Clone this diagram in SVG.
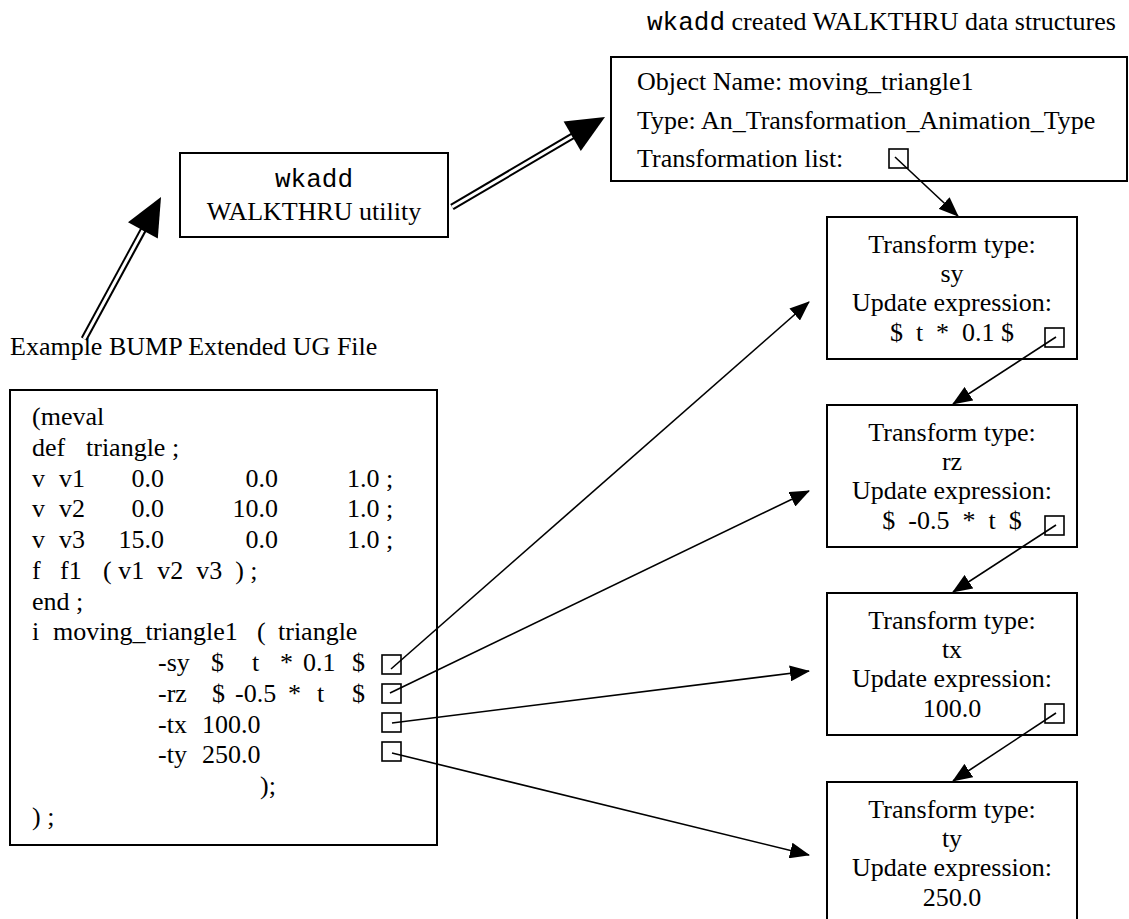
<svg xmlns="http://www.w3.org/2000/svg" width="1129" height="919" viewBox="0 0 1129 919">
  <style>
    .t { font-family: "Liberation Serif", "Times New Roman", serif; font-size: 26px; fill: #000; }
    .m { font-family: "Liberation Mono", "Courier New", monospace; }
    .c { text-anchor: middle; }
    .e { text-anchor: end; }
    .pre { white-space: pre; }
    .box { fill: none; stroke: #000; stroke-width: 2; }
    .sq { fill: none; stroke: #000; stroke-width: 1.6; }
    .conn { fill: none; stroke: #000; stroke-width: 1.6; marker-end: url(#ah); }
    .dbl-out { fill: none; stroke: #000; stroke-width: 7; }
    .dbl-in { fill: none; stroke: #fff; stroke-width: 3; }
  </style>
  <defs>
    <marker id="ah" viewBox="0 0 20 16" refX="19" refY="8" markerWidth="20" markerHeight="16" markerUnits="userSpaceOnUse" orient="auto">
      <path d="M0,0 L20,8 L0,16 z" fill="#000"/>
    </marker>
  </defs>
  <rect width="1129" height="919" fill="#fff"/>

  <!-- utility box -->
  <g id="wkadd-utility">
    <rect class="box" x="180" y="153" width="268" height="84"/>
    <text class="t m c" x="314" y="187">wkadd</text>
    <text class="t c" x="314" y="220">WALKTHRU utility</text>
  </g>

  <!-- source file listing -->
  <g id="ug-file">
    <text class="t" x="10" y="355">Example BUMP Extended UG File</text>
    <rect class="box" x="10" y="390" width="427" height="455"/>
    <text class="t" x="32" y="425">(meval</text>
    <text class="t" x="32" y="456">def</text>
    <text class="t" x="86" y="456">triangle ;</text>
    <text class="t" x="32" y="487">v</text><text class="t" x="59" y="487">v1</text>
    <text class="t e" x="164" y="487">0.0</text><text class="t e" x="278" y="487">0.0</text><text class="t" x="347" y="487">1.0 ;</text>
    <text class="t" x="32" y="517">v</text><text class="t" x="59" y="517">v2</text>
    <text class="t e" x="164" y="517">0.0</text><text class="t e" x="278" y="517">10.0</text><text class="t" x="347" y="517">1.0 ;</text>
    <text class="t" x="32" y="548">v</text><text class="t" x="59" y="548">v3</text>
    <text class="t e" x="164" y="548">15.0</text><text class="t e" x="278" y="548">0.0</text><text class="t" x="347" y="548">1.0 ;</text>
    <text class="t" x="32" y="579">f</text><text class="t" x="60" y="579">f1</text>
    <text class="t pre" x="103" y="579">( v1  v2  v3  ) ;</text>
    <text class="t" x="32" y="610">end ;</text>
    <text class="t" x="32" y="640">i</text><text class="t" x="53" y="640">moving_triangle1</text>
    <text class="t" x="257" y="640">(</text><text class="t" x="278" y="640">triangle</text>
    <text class="t" x="158" y="671">-sy</text><text class="t" x="211" y="671">$</text><text class="t" x="252" y="671">t</text>
    <text class="t" x="280" y="671">*</text><text class="t" x="303" y="671">0.1</text><text class="t" x="352" y="671">$</text>
    <text class="t" x="158" y="702">-rz</text><text class="t" x="212" y="702">$</text><text class="t" x="235" y="702">-0.5</text>
    <text class="t" x="288" y="702">*</text><text class="t" x="317" y="702">t</text><text class="t" x="352" y="702">$</text>
    <text class="t" x="158" y="733">-tx</text><text class="t" x="202" y="733">100.0</text>
    <text class="t" x="158" y="763">-ty</text><text class="t" x="202" y="763">250.0</text>
    <text class="t" x="260" y="794">);</text>
    <text class="t" x="32" y="825">) ;</text>
    <rect class="sq" x="382" y="655" width="19" height="19"/>
    <rect class="sq" x="382" y="684" width="19" height="19"/>
    <rect class="sq" x="382" y="713" width="19" height="19"/>
    <rect class="sq" x="382" y="742" width="19" height="19"/>
  </g>

  <!-- object record -->
  <g id="object-record">
    <text class="t" x="647" y="30"><tspan class="m">wkadd</tspan> created WALKTHRU data structures</text>
    <rect class="box" x="611" y="57" width="516" height="124"/>
    <text class="t" x="637" y="90">Object Name: moving_triangle1</text>
    <text class="t" x="637" y="129">Type: An_Transformation_Animation_Type</text>
    <text class="t" x="637" y="167">Transformation list:</text>
    <rect class="sq" x="889" y="149" width="19" height="19"/>
  </g>

  <!-- transform list entries -->
  <g id="transform-sy">
    <rect class="box" x="827" y="217" width="250" height="142"/>
    <text class="t c" x="952" y="253">Transform type:</text>
    <text class="t c" x="952" y="282">sy</text>
    <text class="t c" x="952" y="311">Update expression:</text>
    <text class="t c pre" x="952" y="341">$  t  *  0.1 $</text>
    <rect class="sq" x="1045" y="328" width="19" height="19"/>
  </g>
  <g id="transform-rz">
    <rect class="box" x="827" y="405" width="250" height="142"/>
    <text class="t c" x="952" y="441">Transform type:</text>
    <text class="t c" x="952" y="470">rz</text>
    <text class="t c" x="952" y="499">Update expression:</text>
    <text class="t c pre" x="952" y="529">$  -0.5  *  t  $</text>
    <rect class="sq" x="1045" y="516" width="19" height="19"/>
  </g>
  <g id="transform-tx">
    <rect class="box" x="827" y="593" width="250" height="142"/>
    <text class="t c" x="952" y="629">Transform type:</text>
    <text class="t c" x="952" y="658">tx</text>
    <text class="t c" x="952" y="687">Update expression:</text>
    <text class="t c" x="952" y="717">100.0</text>
    <rect class="sq" x="1045" y="704" width="19" height="19"/>
  </g>
  <g id="transform-ty">
    <rect class="box" x="827" y="782" width="250" height="142"/>
    <text class="t c" x="952" y="818">Transform type:</text>
    <text class="t c" x="952" y="847">ty</text>
    <text class="t c" x="952" y="876">Update expression:</text>
    <text class="t c" x="952" y="906">250.0</text>
  </g>

  <!-- connectors -->
  <g id="connectors">
    <!-- file to utility (double line) -->
    <path class="dbl-out" d="M84,339 L143.5,229.5"/>
    <path class="dbl-in" d="M84,339 L142.9,230.4"/>
    <polygon points="161,197 157.8,238.5 128,222.3" fill="#000"/>
    <!-- utility to records (double line) -->
    <path class="dbl-out" d="M452,207 L573,135.8"/>
    <path class="dbl-in" d="M452,207 L572.2,136.3"/>
    <polygon points="605,117 580.8,151 563.6,121.6" fill="#000"/>
    <!-- list chain -->
    <path class="conn" d="M895,157 L958,216"/>
    <path class="conn" d="M1056,337 L953,404"/>
    <path class="conn" d="M1056,525 L953,592"/>
    <path class="conn" d="M1056,713 L953,781"/>
    <!-- option slots to list entries -->
    <path class="conn" d="M391,669 L809,302"/>
    <path class="conn" d="M390,693 L809,491"/>
    <path class="conn" d="M392,723 L809,671"/>
    <path class="conn" d="M392,753 L809,855"/>
  </g>
</svg>
